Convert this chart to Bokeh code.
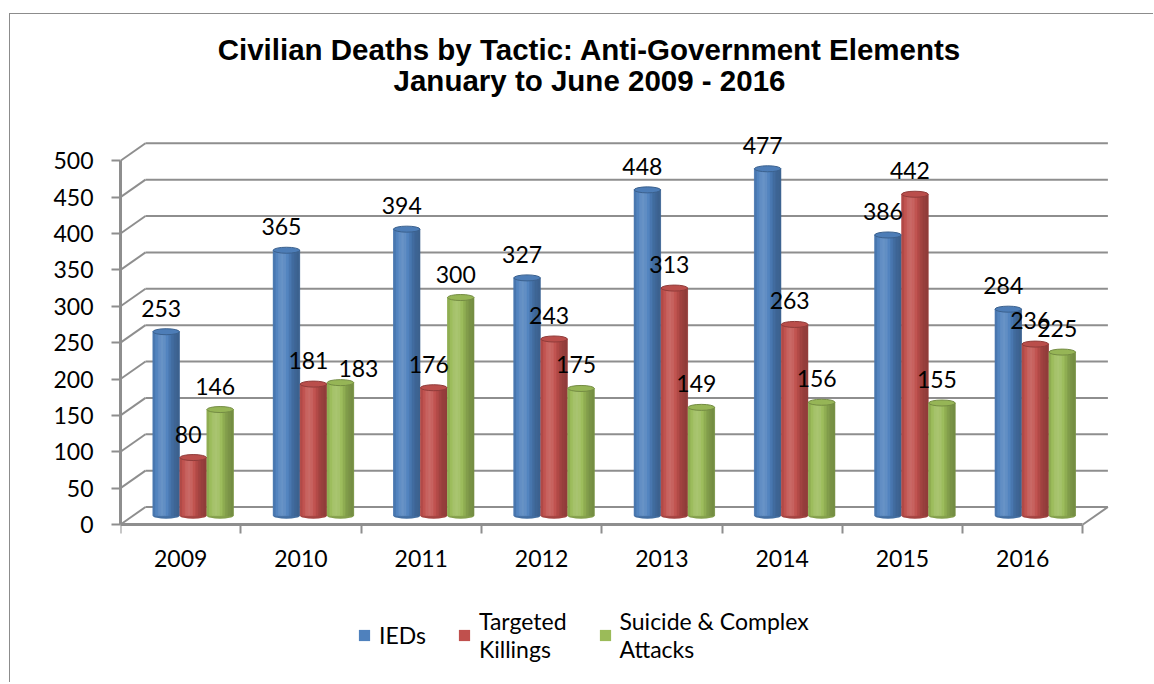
import math
from bokeh.plotting import figure
from bokeh.models import (Range1d, LinearAxis, FixedTicker, Legend, LegendItem,
                          ColumnDataSource)
from bokeh.core.properties import value
from bokeh.embed import file_html
from bokeh.resources import INLINE

# ---------------- data ----------------
years = ["2009", "2010", "2011", "2012", "2013", "2014", "2015", "2016"]
ieds = [253, 365, 394, 327, 448, 477, 386, 284]
targeted = [80, 181, 176, 243, 313, 263, 442, 236]
suicide = [146, 183, 300, 175, 149, 156, 155, 225]
series_names = ["IEDs", "Targeted\nKillings", "Suicide & Complex\nAttacks"]
y_ticks = [0, 50, 100, 150, 200, 250, 300, 350, 400, 450, 500]
title_lines = ["Civilian Deaths by Tactic: Anti-Government Elements",
               "January to June 2009 - 2016"]

# ---------------- style / geometry ----------------
colors = ["#4F81BD", "#C0504D", "#9BBB59"]
FONT = "Lato"
FS = "23px"
FIG_W, FIG_H = 1144, 669
LEFT = 110                    # left panel (y axis) width
PX_PER_CAT = 120.3
PX_PER_VAL = 0.7274
ZERO_FROM_TOP = 510           # px from figure top down to value 0
DX = 25 / PX_PER_CAT          # 3D depth offset (x, data units)
DY = 17.5 / PX_PER_VAL        # 3D depth offset (y, data units)
BW = 26.5 / PX_PER_CAT        # bar width
PITCH = 27 / PX_PER_CAT       # bar pitch inside a group
CAP_H = 6 / PX_PER_VAL        # ellipse cap height
GRID = "#8e8e8e"
N_STRIPS = 10
TITLE_PX = [35, 66]           # title line centres, px below figure top
TITLE_CX_PX = 469             # title centre, px right of the y axis

def shade(hexcol, f):
    r, g, b = (int(hexcol[i:i + 2], 16) for i in (1, 3, 5))
    if f >= 1:
        t = f - 1
        r, g, b = (c + (255 - c) * t for c in (r, g, b))
    else:
        r, g, b = (c * f for c in (r, g, b))
    return "#%02x%02x%02x" % tuple(max(0, min(255, int(round(c)))) for c in (r, g, b))

def profile(t):
    return 0.74 + 0.40 * math.exp(-((t - 0.35) / 0.34) ** 2)

n = len(years)
x_end = (FIG_W - LEFT) / PX_PER_CAT
y_end = ZERO_FROM_TOP / PX_PER_VAL
y_start = -(FIG_H - ZERO_FROM_TOP) / PX_PER_VAL

p = figure(width=FIG_W, height=FIG_H, x_range=Range1d(0, x_end), y_range=Range1d(y_start, y_end),
           x_axis_type=None, y_axis_type=None, output_backend="svg", toolbar_location=None,
           min_border_left=LEFT, min_border_top=0, min_border_right=0, min_border_bottom=0,
           background_fill_color="white", border_fill_color="white")
p.outline_line_color = None
p.margin = (13, 0, 0, 9)
p.styles = {"border-left": "1px solid #8c8c8c", "border-top": "1px solid #8c8c8c"}

# ---------------- title ----------------
p.text(x=[TITLE_CX_PX / PX_PER_CAT] * 2,
       y=[(ZERO_FROM_TOP - t) / PX_PER_VAL for t in TITLE_PX],
       text=title_lines, text_font=value("Liberation Sans"), text_font_size=value("29.5px"),
       text_font_style="bold", text_color="black", text_align="center", text_baseline="middle")

# ---------------- 3D walls / gridlines ----------------
gy = [v + DY for v in y_ticks]
p.segment(x0=[DX] * len(y_ticks), y0=gy, x1=[n + DX] * len(y_ticks), y1=gy,
          line_color=GRID, line_width=2)
p.segment(x0=[0] * len(y_ticks), y0=y_ticks, x1=[DX] * len(y_ticks), y1=gy,
          line_color=GRID, line_width=2)
p.segment(x0=[n], y0=[0], x1=[n + DX], y1=[DY], line_color=GRID, line_width=2)

# ---------------- axes ----------------
yaxis = LinearAxis(ticker=FixedTicker(ticks=y_ticks), bounds=(0, 500),
                   axis_line_color=GRID, axis_line_width=3,
                   major_tick_line_color=GRID, major_tick_line_width=2,
                   major_tick_in=0, major_tick_out=9,
                   minor_tick_line_color=None,
                   major_label_text_font=FONT, major_label_text_font_size=FS,
                   major_label_text_color="black", major_label_standoff=18)
p.add_layout(yaxis, "left")

centers = [i + 0.5 for i in range(n)]
xaxis = LinearAxis(fixed_location=0,
                   ticker=FixedTicker(ticks=centers, minor_ticks=list(range(n + 1))),
                   major_label_overrides={c: y for c, y in zip(centers, years)},
                   bounds=(0, n), axis_line_color=GRID, axis_line_width=3,
                   major_tick_line_color=None, major_tick_in=0, major_tick_out=0,
                   minor_tick_line_color=GRID, minor_tick_line_width=2,
                   minor_tick_in=0, minor_tick_out=9,
                   major_label_text_font=FONT, major_label_text_font_size=FS,
                   major_label_text_color="black", major_label_standoff=16)
p.add_layout(xaxis, "below")

# ---------------- cylinders ----------------
series = [ieds, targeted, suicide]
label_nudge = {(1, 2): (23, 9)}   # (year index, series index): pixel nudge of a label
legend_items = []
sl, sr, st, sb, sc = [], [], [], [], []
cx, ctop, cfill, cline, cbase, cbfill = [], [], [], [], [], []
lx, ly, ltxt, lxo, lyo = [], [], [], [], []
for s, (vals, col, name) in enumerate(zip(series, colors, series_names)):
    xs = [i + 0.5 + DX / 2 + (s - 1) * PITCH for i in range(n)]
    tops = [v + DY / 2 for v in vals]
    body = p.vbar(x=xs, width=BW, top=tops, bottom=DY / 2, fill_color=col, line_color=None)
    legend_items.append(LegendItem(label=name, renderers=[body]))
    for i, v in enumerate(vals):
        xc, top, base = xs[i], tops[i], DY / 2
        for k in range(N_STRIPS):
            l = xc - BW / 2 + k * BW / N_STRIPS
            sl.append(l)
            sr.append(l + BW / N_STRIPS)
            st.append(top)
            sb.append(base)
            sc.append(shade(col, profile((k + 0.5) / N_STRIPS)))
        cx.append(xc)
        ctop.append(top)
        cfill.append(shade(col, 0.97))
        cline.append(shade(col, 0.75))
        cbase.append(base)
        cbfill.append(shade(col, 0.85))
        nx, ny = label_nudge.get((i, s), (0, 0))
        lx.append(xc)
        ly.append(top)
        ltxt.append(str(v))
        lxo.append(-5 + nx)
        lyo.append(-23.5 + ny)

p.ellipse(x=cx, y=cbase, width=BW, height=CAP_H, fill_color=cbfill, line_color=None)
p.quad(source=ColumnDataSource(dict(left=sl, right=sr, top=st, bottom=sb, c=sc)),
       left="left", right="right", top="top", bottom="bottom",
       fill_color="c", line_color="c", line_width=0.6)
p.ellipse(x=cx, y=ctop, width=BW, height=CAP_H, fill_color=cfill, line_color=cline, line_width=1)

p.text(x=lx, y=ly, text=ltxt, x_offset=lxo, y_offset=lyo,
       text_font=value(FONT), text_font_size=value(FS), text_color="black",
       text_align="center", text_baseline="middle")

# ---------------- legend ----------------
legend = Legend(items=legend_items, location=(237, 20), orientation="horizontal",
                glyph_width=14, glyph_height=14, label_standoff=8, spacing=31,
                padding=0, margin=0, border_line_color=None, background_fill_alpha=0,
                label_text_font=FONT, label_text_font_size=FS,
                label_text_line_height=1.45, label_text_color="black")
p.add_layout(legend)

open("out.html", "w").write(file_html(p, INLINE))
